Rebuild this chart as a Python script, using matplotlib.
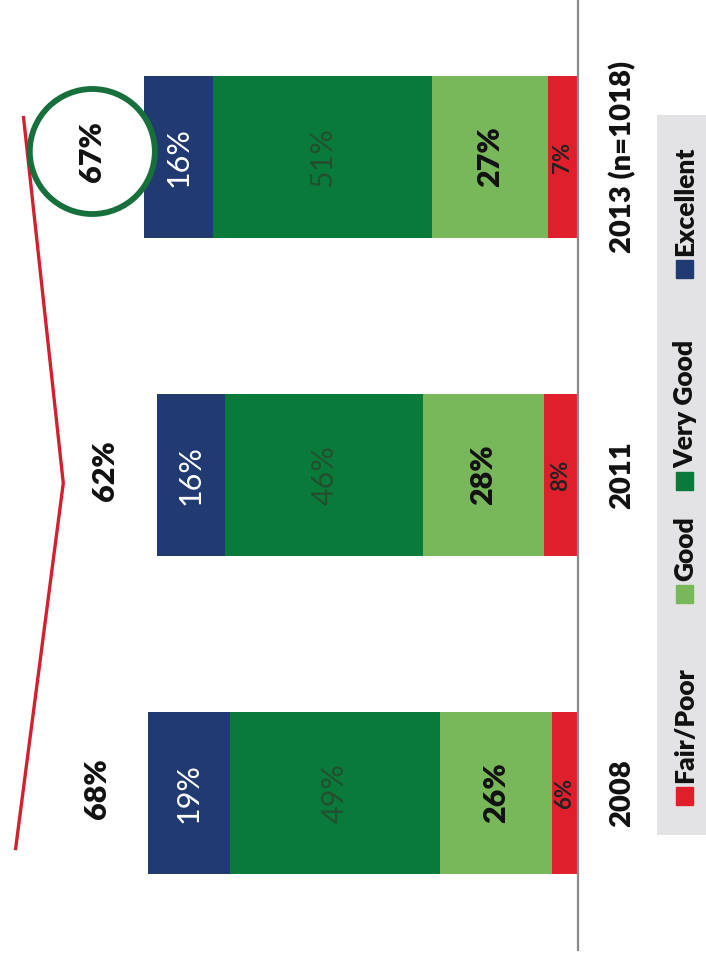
import matplotlib
matplotlib.use("Agg")
import matplotlib.pyplot as plt
from matplotlib.patches import Rectangle
import numpy as np

plt.rcParams['font.family'] = ['Lato', 'DejaVu Sans']

# ---- data ----
years = ["2008", "2011", "2013 (n=1018)"]
series = ["Fair/Poor", "Good", "Very Good", "Excellent"]
fair_poor = [6, 8, 7]
good = [26, 28, 27]
very_good = [49, 46, 51]
excellent = [19, 16, 16]
top_two = [68, 62, 67]
top_two_labels = ["68%", "62%", "67%"]

colors = ["#e01f2d", "#79b85a", "#0a7a3b", "#213a72"]
label_colors = ["#222222", "#111111", "#23502f", "#ffffff"]
label_weights = ["bold", "heavy", "normal", "normal"]
label_sizes = [16, 22, 22, 22]

W, H = 706, 961
fig = plt.figure(figsize=(W / 100, H / 100), dpi=100)
fig.patch.set_facecolor("white")

base_px = 578
ax = fig.add_axes([0, 11 / H, base_px / W, 950 / H])
ax.set_facecolor("none")
pct_px = 4.3
ax.set_xlim(base_px / pct_px, 0)
ax.set_ylim(-0.494, 2.494)
for s in ["top", "left", "bottom"]:
    ax.spines[s].set_visible(False)
ax.spines["right"].set_color("#8a8a8a")
ax.spines["right"].set_linewidth(1.6)
ax.set_xticks([])
ax.set_yticks([])

ypos = np.arange(len(years))
vals = [fair_poor, good, very_good, excellent]
left = np.zeros(len(years))
for k, (name, v) in enumerate(zip(series, vals)):
    v = np.array(v, dtype=float)
    ax.barh(ypos, v, left=left, height=0.51, color=colors[k], zorder=2)
    for i in range(len(years)):
        ax.text(left[i] + v[i] / 2, ypos[i], f"{int(v[i])}%", rotation=90,
                ha="center", va="center", color=label_colors[k],
                fontsize=label_sizes[k], fontweight=label_weights[k], zorder=3)
    left += v

# category labels (rotated)
for i, yl in enumerate(years):
    ax.annotate(yl, xy=(0, ypos[i]), xytext=(32, 0), textcoords="offset points",
                rotation=90, ha="center", va="center", fontsize=21,
                fontweight="heavy", color="#111111", annotation_clip=False)

# total labels beyond bar end
for i, t in enumerate(top_two_labels):
    kw = {}
    if i == len(top_two_labels) - 1:
        kw["bbox"] = dict(boxstyle="circle,pad=1.05", fc="white", ec="#17703c", lw=4.2)
    ax.annotate(t, xy=(left[i], ypos[i]), xytext=(-37, 3 if i < 2 else 4),
                textcoords="offset points",
                rotation=90, ha="center", va="center", fontsize=22,
                fontweight="heavy", color="#111111", zorder=6, **kw)

# trend line of top-two share on its own scale
ax2 = fig.add_axes([0, 11 / H, base_px / W, 950 / H], zorder=-1)
ax2.set_facecolor("none")
ax2.set_xlim(69.93, -2.5)
ax2.set_ylim(-0.272, 2.316)
ax2.axis("off")
ax2.plot(top_two, ypos, color="#d2202e", lw=2.4, solid_capstyle="butt")

# legend (manual, rotated)
lg = fig.add_axes([657 / W, (H - 835) / H, 49 / W, 720 / H])
lg.set_facecolor("#e3e3e5")
for s in lg.spines.values():
    s.set_visible(False)
lg.set_xticks([])
lg.set_yticks([])
lg.set_xlim(0, 49)
lg.set_ylim(835, 115)
square_bottoms = [805, 603, 490, 278]
for k, name in enumerate(series):
    yb = square_bottoms[k]
    lg.add_patch(Rectangle((19, yb - 18), 17, 18, color=colors[k]))
    lg.text(28, yb - 22, name, rotation=90, ha="center", va="bottom",
            fontsize=19, fontweight="heavy", color="#111111")

fig.savefig("out.png", dpi=100)
